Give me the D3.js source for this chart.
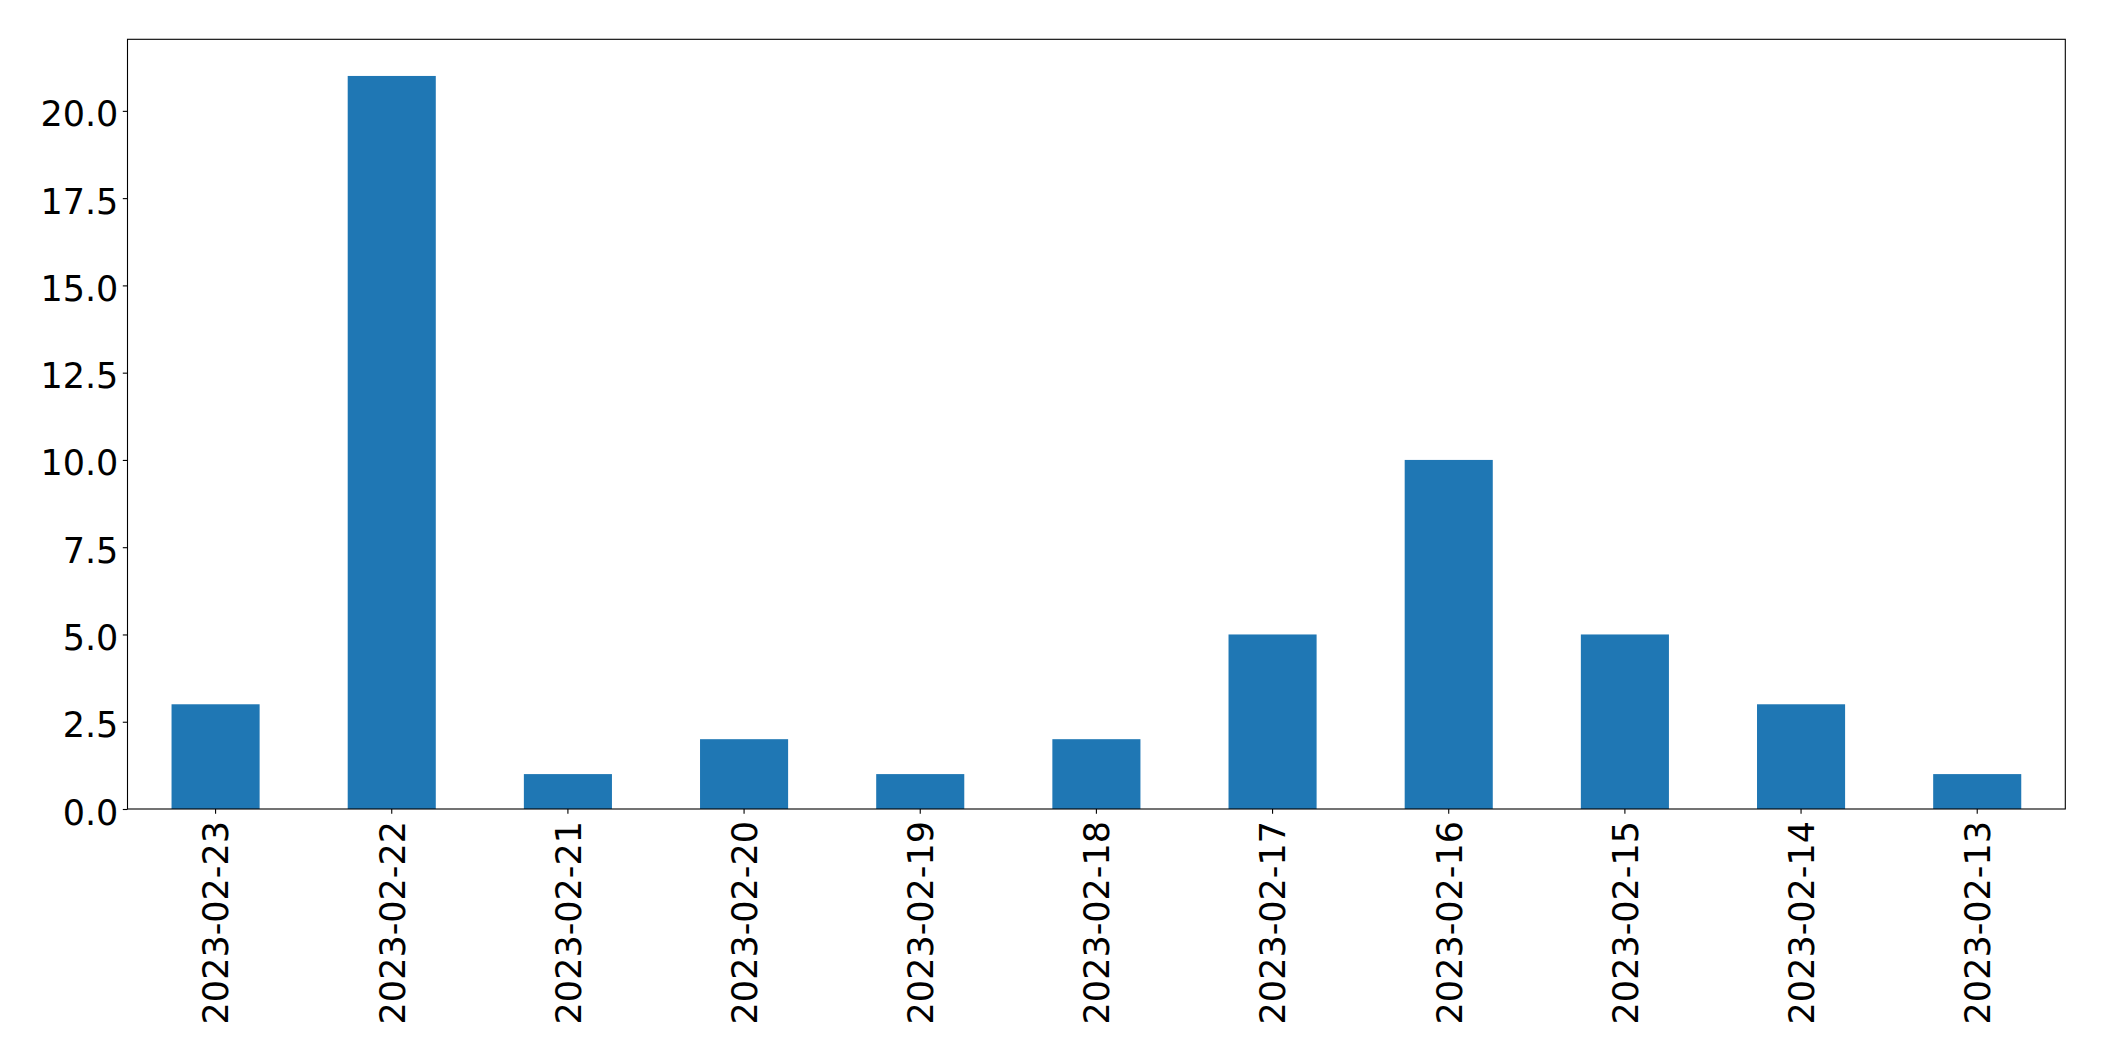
<!DOCTYPE html>
<html><head><meta charset="utf-8">
<script src="https://cdn.jsdelivr.net/npm/d3@7"></script>
<style>html,body{margin:0;padding:0;background:#fff;}svg{display:block;}</style>
</head><body>
<svg id="chart" width="2104" height="1061"></svg>
<script>
const categories = ["2023-02-23","2023-02-22","2023-02-21","2023-02-20","2023-02-19","2023-02-18","2023-02-17","2023-02-16","2023-02-15","2023-02-14","2023-02-13"];
const values = [3, 21, 1, 2, 1, 2, 5, 10, 5, 3, 1];
const yTicks = [0, 2.5, 5, 7.5, 10, 12.5, 15, 17.5, 20];

const W = 2104, H = 1061;
const m = {left: 127.5, right: 2065.3, top: 39.3, bottom: 809};
const fontSize = 35;
const tickLen = 4.7;

const svg = d3.select("#chart");
const x = d3.scaleBand().domain(categories).range([m.left, m.right]).paddingInner(0.5).paddingOuter(0.25);
const yMax = d3.max(values) * 1.05;
const y = d3.scaleLinear().domain([0, yMax]).range([m.bottom, m.top]);

svg.append("g").selectAll("rect").data(values).join("rect")
  .attr("x", (d, i) => x(categories[i]))
  .attr("width", x.bandwidth())
  .attr("y", d => y(d))
  .attr("height", d => y(0) - y(d))
  .attr("fill", "#1f77b4");

const yAxis = svg.append("g").attr("transform", `translate(${m.left},0)`)
  .call(d3.axisLeft(y).tickValues(yTicks).tickFormat(d3.format(".1f")).tickSize(tickLen).tickPadding(4.5));
yAxis.select(".domain").remove();
yAxis.selectAll("line").attr("stroke", "#000").attr("stroke-width", 1.1);
yAxis.selectAll("text").attr("font-family", "DejaVu Sans").attr("font-size", fontSize).attr("fill", "#000").attr("dy", "0.43em");

const xAxis = svg.append("g").attr("transform", `translate(0,${m.bottom})`)
  .call(d3.axisBottom(x).tickSize(tickLen).tickPadding(0));
xAxis.select(".domain").remove();
xAxis.selectAll("line").attr("stroke", "#000").attr("stroke-width", 1.1);
xAxis.selectAll("text")
  .attr("font-family", "DejaVu Sans").attr("font-size", fontSize).attr("fill", "#000")
  .attr("text-anchor", "end")
  .attr("transform", "translate(0,12) rotate(-90)")
  .attr("x", 0).attr("y", 0).attr("dy", "0.365em");

svg.append("rect")
  .attr("x", m.left).attr("y", m.top)
  .attr("width", m.right - m.left).attr("height", m.bottom - m.top)
  .attr("fill", "none").attr("stroke", "#000").attr("stroke-width", 1.1);
</script>
</body></html>
